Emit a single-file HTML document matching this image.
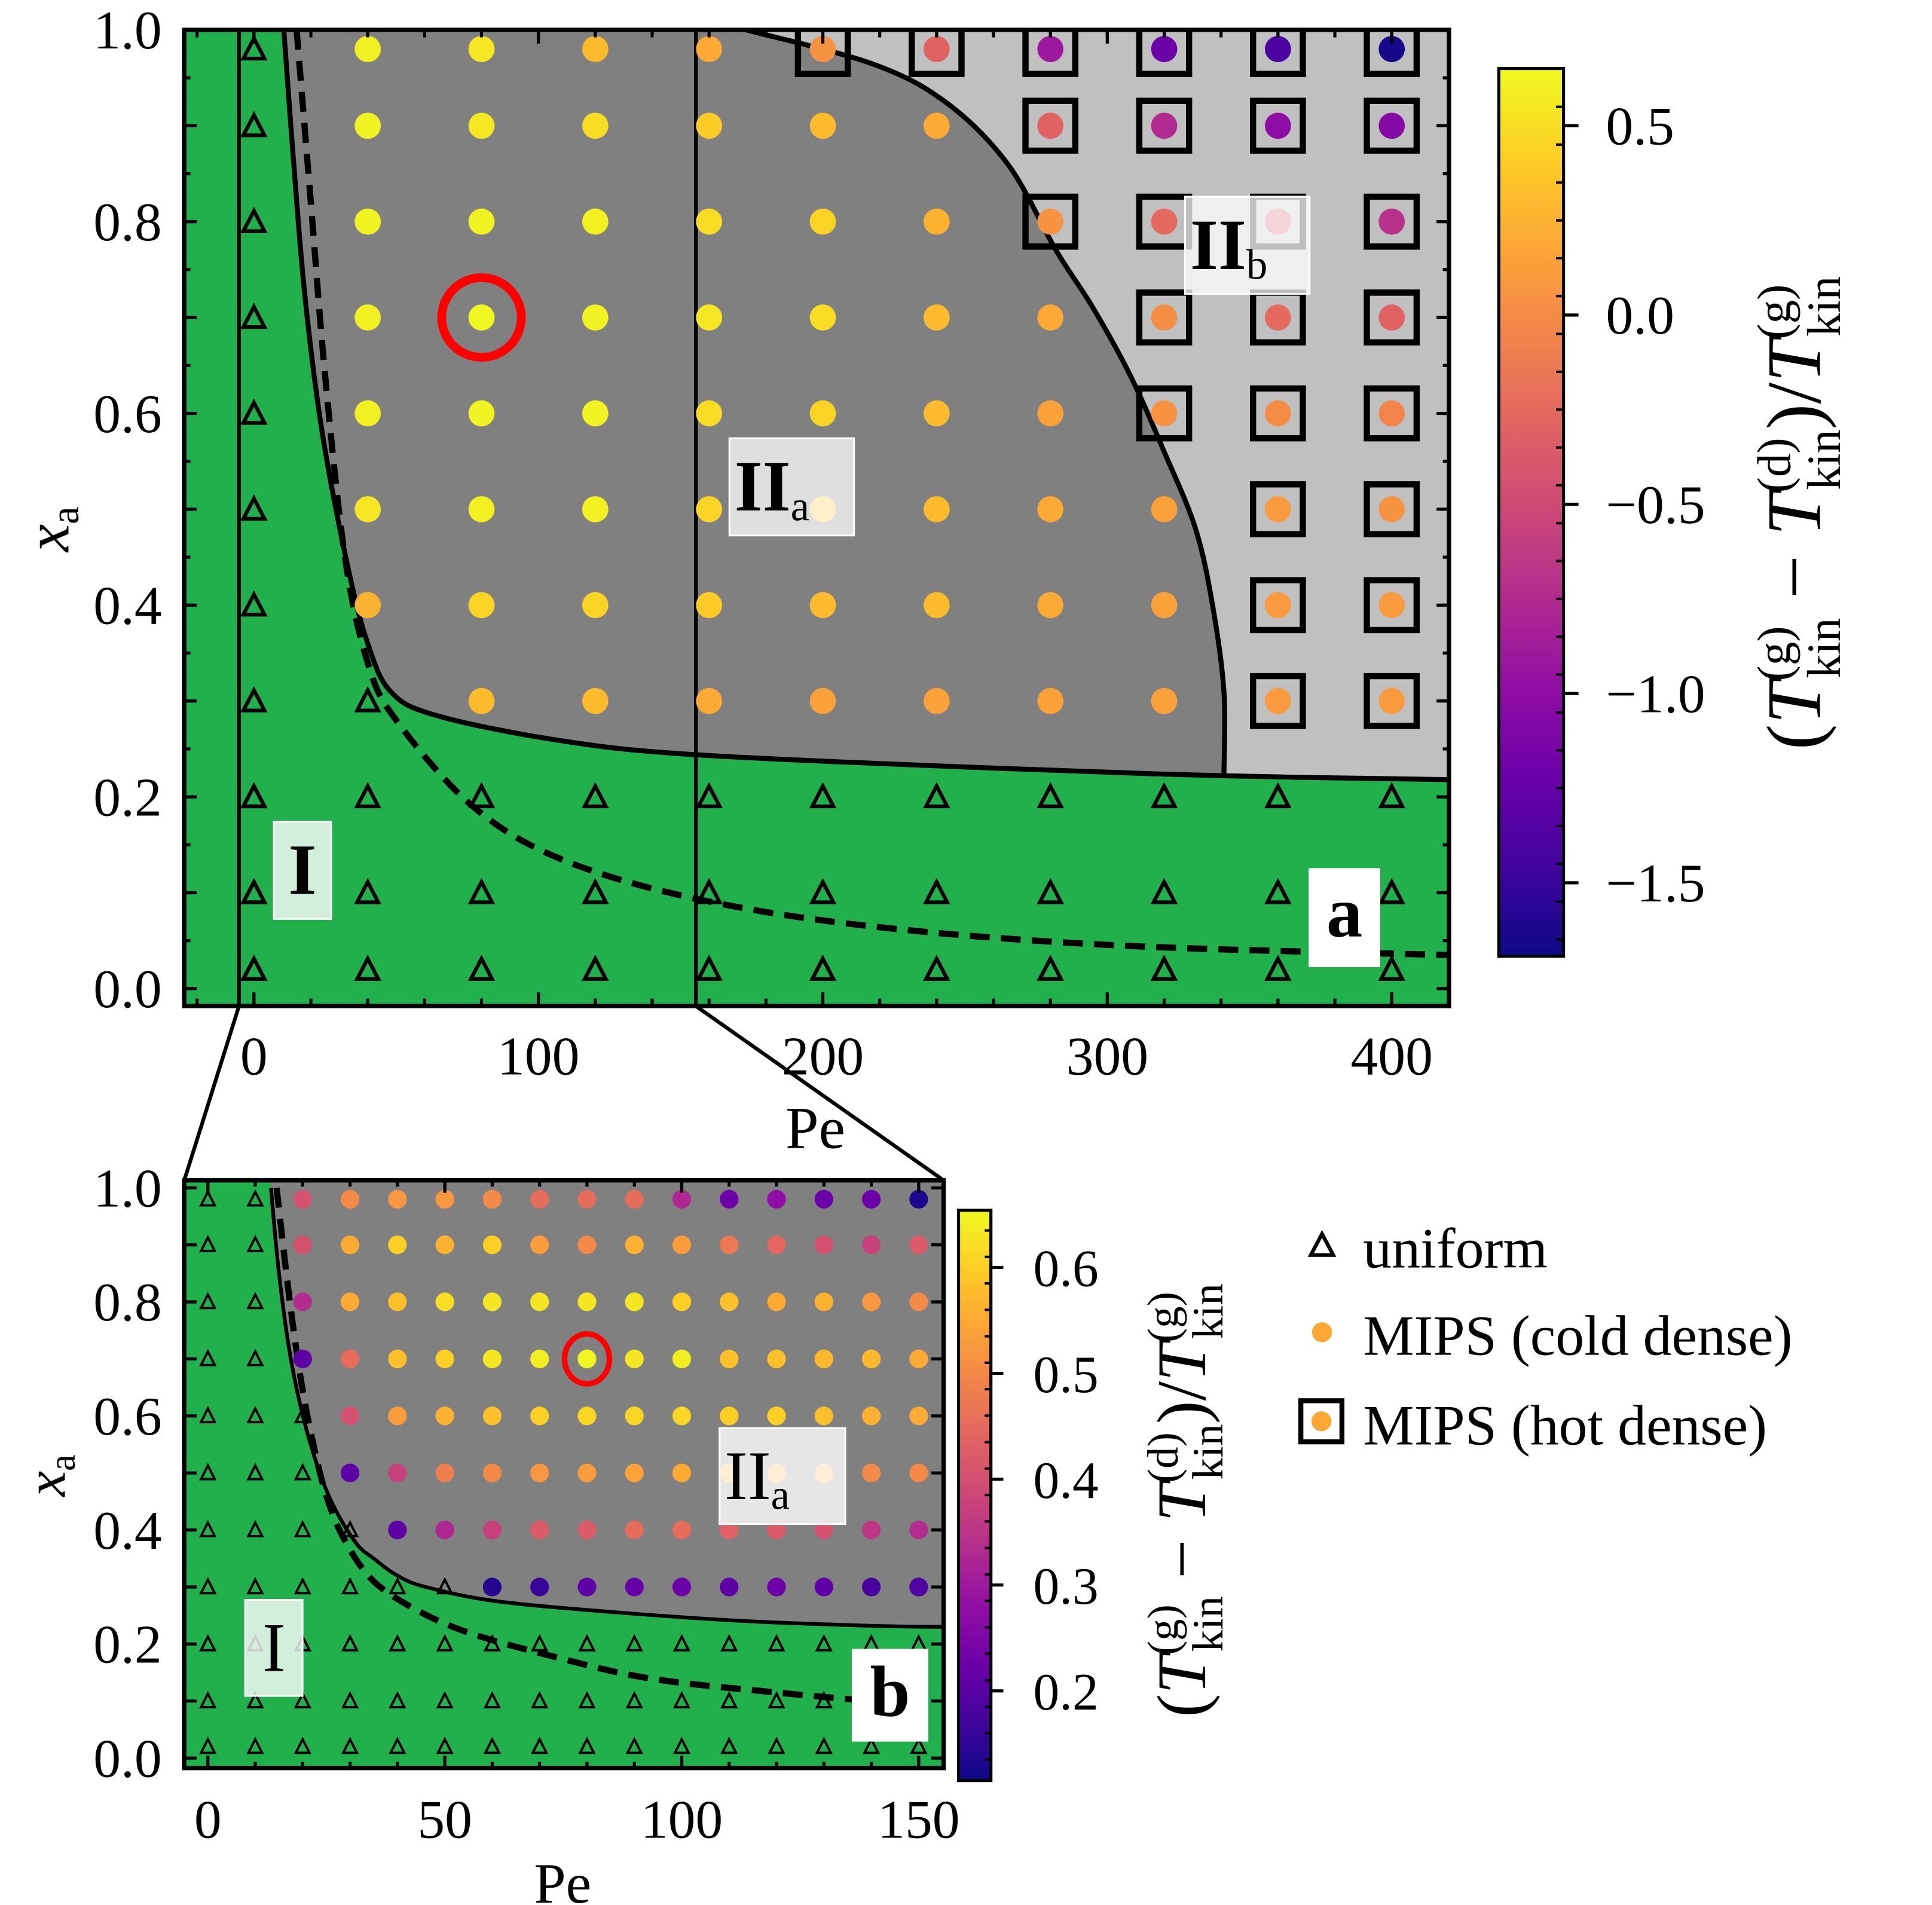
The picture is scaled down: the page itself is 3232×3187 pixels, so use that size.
<!DOCTYPE html>
<html><head><meta charset="utf-8"><style>
html,body{margin:0;padding:0;background:#fff}
svg{display:block}
text{font-family:"Liberation Serif",serif;fill:#000}
</style></head><body>
<svg id="fig" xmlns="http://www.w3.org/2000/svg" width="3232" height="3187" viewBox="0 0 1552 1530" preserveAspectRatio="none">
<defs>
<linearGradient id="plasma" x1="0" y1="1" x2="0" y2="0">
<stop offset="0" stop-color="#0d0887"/><stop offset="0.1" stop-color="#41049d"/><stop offset="0.2" stop-color="#6a00a8"/><stop offset="0.3" stop-color="#8f0da4"/><stop offset="0.4" stop-color="#b12a90"/><stop offset="0.5" stop-color="#cc4778"/><stop offset="0.6" stop-color="#e16462"/><stop offset="0.7" stop-color="#f2844b"/><stop offset="0.8" stop-color="#fca636"/><stop offset="0.9" stop-color="#fcce25"/><stop offset="1" stop-color="#f0f921"/>
</linearGradient>
<clipPath id="clipA"><rect x="148" y="24" width="1016" height="784"/></clipPath>
<clipPath id="clipB"><rect x="148" y="948" width="610" height="472"/></clipPath>
</defs>
<g id="gA"></g>
<g id="gB"></g>
<g id="gL">
<path d="M1062,991 L1071,1008 L1053,1008 Z" fill="none" stroke="#000" stroke-width="3"/>
<text x="1095" y="1018" font-size="46">uniform</text>
<circle cx="1062" cy="1070" r="8" fill="#fca636"/>
<text x="1095" y="1088" font-size="46">MIPS (cold dense)</text>
<rect x="1045" y="1125" width="33" height="33" fill="none" stroke="#000" stroke-width="4"/>
<circle cx="1061.5" cy="1141.5" r="8" fill="#fca636"/>
<text x="1095" y="1160" font-size="46">MIPS (hot dense)</text>
</g>
</svg>
<script>
// ===== Panel a data =====
const peA = [40,80,120,160,200,240,280,320,360,400];
const xaA = [0.98,0.9,0.8,0.7,0.6,0.5,0.4,0.3];
const valA = [
 [0.6,0.55,0.3,0.2,0.05,-0.3,-0.9,-1.2,-1.4,-1.65],
 [0.62,0.55,0.5,0.4,0.3,0.2,-0.3,-0.75,-1.0,-1.05],
 [0.62,0.62,0.6,0.5,0.45,0.25,0.05,-0.25,-0.45,-0.7],
 [0.6,0.64,0.62,0.55,0.5,0.3,0.2,0.02,-0.25,-0.3],
 [0.6,0.62,0.62,0.5,0.45,0.3,0.15,0.05,0.0,-0.05],
 [0.55,0.6,0.6,0.45,0.35,0.3,0.2,0.15,0.1,0.05],
 [0.25,0.45,0.45,0.4,0.3,0.3,0.2,0.15,0.1,0.1],
 [null,0.3,0.3,0.2,0.15,0.15,0.15,0.15,0.1,0.1]
];
// phase: 0 uniform, 1 cold, 2 hot
const phaseA = [
 [1,1,1,1,2,2,2,2,2,2],
 [1,1,1,1,1,1,2,2,2,2],
 [1,1,1,1,1,1,2,2,2,2],
 [1,1,1,1,1,1,1,2,2,2],
 [1,1,1,1,1,1,1,2,2,2],
 [1,1,1,1,1,1,1,1,2,2],
 [1,1,1,1,1,1,1,1,2,2],
 [0,1,1,1,1,1,1,1,2,2]
];
const uniA_pe = [0,0,0,0,0,0,0,0,0,0,0, 40, 0,40,80,120,160,200,240,280,320,360,400, 0,40,80,120,160,200,240,280,320,360,400, 0,40,80,120,160,200,240,280,320,360,400];
const uniA_xa = [0.98,0.9,0.8,0.7,0.6,0.5,0.4,0.3,0.2,0.1,0.02, 0.3, 0.2,0.2,0.2,0.2,0.2,0.2,0.2,0.2,0.2,0.2,0.2, 0.1,0.1,0.1,0.1,0.1,0.1,0.1,0.1,0.1,0.1,0.1, 0.02,0.02,0.02,0.02,0.02,0.02,0.02,0.02,0.02,0.02,0.02];
const xTicksA = [0,100,200,300,400];
const yTicks = [0.0,0.2,0.4,0.6,0.8,1.0];
const cbTicksA = [0.5,0.0,-0.5,-1.0,-1.5];
const bndA_pe = [10.5,14,18,24,33,40,48,64,107,155,260,341,420];
const bndA_xa = [1.0,0.86,0.72,0.58,0.44,0.36,0.31,0.285,0.259,0.244,0.23,0.222,0.218];
const bndB_pe = [173,217,243,265,282,295,308,320,331,337,341,341];
const bndB_xa = [1.0,0.965,0.925,0.86,0.77,0.71,0.64,0.56,0.48,0.40,0.31,0.222];
const dashA_pe = [15,20,25,32,40,50,77,108,155,217,304,420];
const dashA_xa = [1.0,0.82,0.64,0.45,0.34,0.28,0.19,0.135,0.094,0.065,0.045,0.035];

// ===== Panel b data =====
const peB = [20,30,40,50,60,70,80,90,100,110,120,130,140,150];
const xaB = [0.98,0.9,0.8,0.7,0.6,0.5,0.4,0.3];
const valB = [
 [0.4,0.5,0.52,0.52,0.5,0.45,0.45,0.45,0.32,0.22,0.27,0.22,0.22,0.12],
 [0.4,0.55,0.6,0.56,0.6,0.53,0.5,0.56,0.53,0.47,0.44,0.4,0.37,0.42],
 [0.33,0.55,0.58,0.62,0.63,0.63,0.63,0.63,0.6,0.58,0.55,0.56,0.52,0.5],
 [0.2,0.45,0.58,0.6,0.63,0.64,0.65,0.63,0.64,0.58,0.58,0.57,0.57,0.55],
 [null,0.4,0.53,0.56,0.58,0.6,0.61,0.61,0.61,0.6,0.6,0.58,0.56,0.55],
 [null,0.2,0.37,0.48,0.5,0.52,0.53,0.54,0.55,0.55,0.55,0.55,0.5,0.5],
 [null,null,0.2,0.32,0.37,0.42,0.42,0.45,0.45,0.43,0.42,0.4,0.35,0.33],
 [null,null,null,null,0.13,0.15,0.2,0.21,0.22,0.2,0.22,0.2,0.17,0.18]
];
const peBAll = [0,10,20,30,40,50,60,70,80,90,100,110,120,130,140,150];
const xaBAll = [0.98,0.9,0.8,0.7,0.6,0.5,0.4,0.3,0.2,0.1,0.02];
const xTicksB = [0,50,100,150];
const cbTicksB = [0.6,0.5,0.4,0.3,0.2];
const bndC_pe = [13.3,15,17.5,21,25.5,31,35,40,46,61,87,114,140,155];
const bndC_xa = [1.0,0.85,0.7,0.57,0.46,0.38,0.35,0.32,0.3,0.275,0.255,0.24,0.232,0.23];
const dashB_pe = [14.5,17,19.5,22,25,29,35,44,55,72,93,120,140];
const dashB_xa = [1.0,0.82,0.67,0.56,0.46,0.38,0.31,0.26,0.22,0.18,0.14,0.115,0.1];

// ===== helpers =====
const NS='http://www.w3.org/2000/svg';
function mk(tag, attrs, parent){const e=document.createElementNS(NS,tag);for(const k in attrs)e.setAttribute(k,attrs[k]);parent.appendChild(e);return e;}
const stops=[[0,[13,8,135]],[0.1,[65,4,157]],[0.2,[106,0,168]],[0.3,[143,13,164]],[0.4,[177,42,144]],[0.5,[204,71,120]],[0.6,[225,100,98]],[0.7,[242,132,75]],[0.8,[252,166,54]],[0.9,[252,206,37]],[1,[240,249,33]]];
function plasma(t){t=Math.max(0,Math.min(1,t));for(let i=1;i<stops.length;i++){if(t<=stops[i][0]){const a=stops[i-1],b=stops[i];const f=(t-a[0])/(b[0]-a[0]);const c=a[1].map((v,j)=>Math.round(v+(b[1][j]-v)*f));return `rgb(${c})`;}}return 'rgb(240,249,33)';}
function smooth(pts){let d=`M${pts[0][0]},${pts[0][1]}`;for(let i=0;i<pts.length-1;i++){const p0=pts[Math.max(0,i-1)],p1=pts[i],p2=pts[i+1],p3=pts[Math.min(pts.length-1,i+2)];const c1=[p1[0]+(p2[0]-p0[0])/6,p1[1]+(p2[1]-p0[1])/6],c2=[p2[0]-(p3[0]-p1[0])/6,p2[1]-(p3[1]-p1[1])/6];d+=` C${c1[0]},${c1[1]} ${c2[0]},${c2[1]} ${p2[0]},${p2[1]}`;}return d;}
function tri(g,cx,cy,s,sw){const h=s*0.9;return mk('path',{d:`M${cx},${cy-h/2-1} L${cx+s/2},${cy+h/2} L${cx-s/2},${cy+h/2} Z`,fill:'none',stroke:'#000','stroke-width':sw},g);}

// ===== Panel a =====
const gA=document.getElementById('gA');
const A={x0:148,x1:1164,y0:24,y1:808};
const xA=p=>204+p*(1118-204)/400;
const yA=v=>794-v*770;
const cA=v=>plasma((v+1.69)/(0.65+1.69));
const clipA=mk('g',{'clip-path':'url(#clipA)'},gA);


let r=mk('rect',{x:A.x0,y:A.y0,width:A.x1-A.x0,height:A.y1-A.y0,fill:'#22b04c'},clipA);

const bA=bndA_pe.map((p,i)=>[xA(p),yA(bndA_xa[i])]);
let e=mk('path',{d:smooth(bA)+` L${A.x1+5},${yA(0.218)} L${A.x1+5},${A.y0-5} L${xA(10.5)},${A.y0-5} Z`,fill:'#808080'},clipA);

const bB=bndB_pe.map((p,i)=>[xA(p),yA(bndB_xa[i])]);
e=mk('path',{d:smooth(bB)+` L${A.x1+5},${yA(0.218)} L${A.x1+5},${A.y0-5} Z`,fill:'#c0c0c0'},clipA);

e=mk('path',{d:smooth(bA),fill:'none',stroke:'#000','stroke-width':4},clipA);

e=mk('path',{d:smooth(bB),fill:'none',stroke:'#000','stroke-width':4},clipA);

e=mk('path',{d:smooth(dashA_pe.map((p,i)=>[xA(p),yA(dashA_xa[i])])),fill:'none',stroke:'#000','stroke-width':5,'stroke-dasharray':'16,9'},clipA);

e=mk('line',{x1:192,y1:A.y0,x2:192,y2:A.y1,stroke:'#000','stroke-width':3},clipA);

e=mk('line',{x1:559,y1:A.y0,x2:559,y2:A.y1,stroke:'#000','stroke-width':3},clipA);

uniA_pe.forEach((p,i)=>{const t=tri(clipA,xA(p),yA(uniA_xa[i]),17,3);
});
xaA.forEach((xa,ri)=>peA.forEach((p,ci)=>{const v=valA[ri][ci];if(v===null)return;
 if(phaseA[ri][ci]===2){const s=mk('rect',{x:xA(p)-20,y:yA(xa)-20,width:40,height:40,fill:'none',stroke:'#000','stroke-width':5},clipA);
 }
 const c=mk('circle',{cx:xA(p),cy:yA(xa),r:10.5,fill:cA(v)},clipA);
 }));
function labelBox(g,x,y,w,h,fill,op,name){const b=mk('rect',{x,y,width:w,height:h,fill,'fill-opacity':op,stroke:'#fff','stroke-width':1.5},g);return b;}
labelBox(clipA,220,660,46,78,'#fff',0.8,'label-i-box');
e=mk('text',{x:243,y:718,'font-size':58,'font-weight':'bold','text-anchor':'middle'},clipA);e.textContent='I';

labelBox(clipA,586,352,100,78,'#fff',0.75,'label-iia-box');
e=mk('text',{x:590,y:410,'font-size':58,'font-weight':'bold'},clipA);e.innerHTML='II<tspan font-size="34" font-weight="normal" dy="8">a</tspan>';

labelBox(clipA,952,158,100,78,'#fff',0.75,'label-iib-box');
e=mk('text',{x:956,y:216,'font-size':58,'font-weight':'bold'},clipA);e.innerHTML='II<tspan font-size="34" font-weight="normal" dy="8">b</tspan>';

labelBox(clipA,1052,698,56,78,'#fff',1,'panel-a-tag-box');
e=mk('text',{x:1080,y:752,'font-size':58,'font-weight':'bold','text-anchor':'middle'},clipA);e.textContent='a';

e=mk('circle',{cx:xA(80),cy:yA(0.7),r:32,fill:'none',stroke:'#ff0000','stroke-width':7},clipA);

e=mk('rect',{x:A.x0,y:A.y0,width:A.x1-A.x0,height:A.y1-A.y0,fill:'none',stroke:'#000','stroke-width':3.5},gA);

function ticksX(g,fx,from,to,step,y0,y1,len){for(let p=from;p<=to+1e-9;p+=step){const x=fx(p);mk('line',{x1:x,y1:y1,x2:x,y2:y1-len,stroke:'#000','stroke-width':2.5},g);mk('line',{x1:x,y1:y0,x2:x,y2:y0+len,stroke:'#000','stroke-width':2.5},g);}}
function ticksY(g,fy,from,to,step,x0,x1,len){for(let v=from;v<=to+1e-9;v+=step){const y=fy(v);mk('line',{x1:x0,y1:y,x2:x0+len,y2:y,stroke:'#000','stroke-width':2.5},g);mk('line',{x1:x1,y1:y,x2:x1-len,y2:y,stroke:'#000','stroke-width':2.5},g);}}
const tkA=mk('g',{},gA);
ticksX(tkA,xA,0,400,100,A.y0,A.y1,11);ticksX(tkA,xA,-20,420,20,A.y0,A.y1,6);
ticksY(tkA,yA,0,1,0.1,A.x0,A.x1,10);ticksY(tkA,yA,0,1,0.05,A.x0,A.x1,5);
xTicksA.forEach(t=>{const l=mk('text',{x:xA(t),y:863,'font-size':44,'text-anchor':'middle'},gA);l.textContent=t;
 });
yTicks.forEach(t=>{const l=mk('text',{x:130,y:yA(t)+15,'font-size':44,'text-anchor':'end'},gA);l.textContent=t.toFixed(1);
 });
e=mk('text',{x:655,y:922,'font-size':48,'text-anchor':'middle'},gA);e.textContent='Pe';

e=mk('text',{x:0,y:0,'font-size':50,'font-style':'italic',transform:'translate(55,425) rotate(-90)','text-anchor':'middle'},gA);e.innerHTML='x<tspan font-size="32" font-style="normal" dy="8">a</tspan>';

const cbyA=v=>101+(0.5-v)*304;
e=mk('rect',{x:1204,y:55,width:52,height:713,fill:'url(#plasma)',stroke:'#000','stroke-width':2.5},gA);

for(let v=-1.65;v<=0.65;v+=0.1){const y=cbyA(v);if(y>57&&y<766)mk('line',{x1:1256,y1:y,x2:1250,y2:y,stroke:'#000','stroke-width':2},gA);}
cbTicksA.forEach(t=>{const y=cbyA(t);mk('line',{x1:1256,y1:y,x2:1268,y2:y,stroke:'#000','stroke-width':2.5},gA);
 const l=mk('text',{x:1290,y:y+15,'font-size':44},gA);l.textContent=(t<0?'\u2212':'')+Math.abs(t).toFixed(1);
 });
e=mk('text',{x:0,y:0,'font-size':62,transform:'translate(1462,412) rotate(-90)','text-anchor':'middle'},gA);
e.innerHTML='(<tspan font-style="italic">T</tspan><tspan font-size="38" dy="-24">(g)</tspan><tspan font-size="38" dx="-42" dy="40">kin</tspan><tspan dy="-16"> \u2212 </tspan><tspan font-style="italic">T</tspan><tspan font-size="38" dy="-24">(d)</tspan><tspan font-size="38" dx="-42" dy="40">kin</tspan><tspan dy="-16">)/</tspan><tspan font-style="italic">T</tspan><tspan font-size="38" dy="-24">(g)</tspan><tspan font-size="38" dx="-42" dy="40">kin</tspan>';

e=mk('line',{x1:192,y1:808,x2:148,y2:948,stroke:'#000','stroke-width':3},gA);
e=mk('line',{x1:559,y1:808,x2:758,y2:948,stroke:'#000','stroke-width':3},gA);

// ===== Panel b =====
const gB=document.getElementById('gB');
const B={x0:148,x1:758,y0:948,y1:1420};
const xB=p=>167+p*(738-167)/150;
const yB=v=>1412-v*458;
const cB=v=>plasma((v-0.106)/(0.654-0.106));
const clipB=mk('g',{'clip-path':'url(#clipB)'},gB);

e=mk('rect',{x:B.x0,y:B.y0,width:B.x1-B.x0,height:B.y1-B.y0,fill:'#22b04c'},clipB);

const bC=bndC_pe.map((p,i)=>[xB(p),yB(bndC_xa[i])]);
e=mk('path',{d:smooth(bC)+` L${B.x1+5},${yB(0.23)} L${B.x1+5},${B.y0-5} L${xB(13.3)},${B.y0-5} Z`,fill:'#808080'},clipB);

e=mk('path',{d:smooth(bC),fill:'none',stroke:'#000','stroke-width':3},clipB);

e=mk('path',{d:smooth(dashB_pe.map((p,i)=>[xB(p),yB(dashB_xa[i])])),fill:'none',stroke:'#000','stroke-width':5,'stroke-dasharray':'16,9'},clipB);

xaBAll.forEach((xa,ri)=>peBAll.forEach((p,ci)=>{
 let isDot=false;const r2=xaB.indexOf(xa);const c2=peB.indexOf(p);
 if(r2>=0&&c2>=0&&valB[r2][c2]!==null)isDot=true;
 if(isDot){const c=mk('circle',{cx:xB(p),cy:yB(xa),r:7.5,fill:cB(valB[r2][c2])},clipB);
  }
 else{const t=tri(clipB,xB(p),yB(xa),11,1.9);}
}));
labelBox(clipB,197,1285,46,77,'#fff',0.8,'label-i-b-box');
e=mk('text',{x:220,y:1342,'font-size':56,'text-anchor':'middle'},clipB);e.textContent='I';

labelBox(clipB,578,1147,101,77,'#fff',0.8,'label-iia-b-box');
e=mk('text',{x:582,y:1204,'font-size':56}, clipB);e.innerHTML='II<tspan font-size="34" dy="8">a</tspan>';

labelBox(clipB,685,1325,60,73,'#fff',1,'panel-b-tag-box');
e=mk('text',{x:715,y:1378,'font-size':58,'font-weight':'bold','text-anchor':'middle'},clipB);e.textContent='b';

e=mk('ellipse',{cx:xB(80),cy:yB(0.7),rx:18,ry:20,fill:'none',stroke:'#ff0000','stroke-width':4.5},clipB);

e=mk('rect',{x:B.x0,y:B.y0,width:B.x1-B.x0,height:B.y1-B.y0,fill:'none',stroke:'#000','stroke-width':3.5},gB);

const tkB=mk('g',{},gB);
ticksX(tkB,xB,0,150,50,B.y0,B.y1,10);ticksX(tkB,xB,0,150,10,B.y0,B.y1,5);
ticksY(tkB,yB,0,1,0.1,B.x0,B.x1,10);
xTicksB.forEach(t=>{const l=mk('text',{x:xB(t),y:1476,'font-size':44,'text-anchor':'middle'},gB);l.textContent=t;
 });
yTicks.forEach(t=>{const l=mk('text',{x:130,y:yB(t)+15,'font-size':44,'text-anchor':'end'},gB);l.textContent=t.toFixed(1);
 });
e=mk('text',{x:452,y:1528,'font-size':46,'text-anchor':'middle'},gB);e.textContent='Pe';

e=mk('text',{x:0,y:0,'font-size':46,'font-style':'italic',transform:'translate(52,1185) rotate(-90)','text-anchor':'middle'},gB);e.innerHTML='x<tspan font-size="30" font-style="normal" dy="8">a</tspan>';

const cbyB=v=>1018+(0.6-v)*850;
e=mk('rect',{x:770,y:972,width:26,height:458,fill:'url(#plasma)',stroke:'#000','stroke-width':2.5},gB);

for(let v=0.11;v<=0.65;v+=0.025){const y=cbyB(v);if(y>974&&y<1428)mk('line',{x1:796,y1:y,x2:791,y2:y,stroke:'#000','stroke-width':2},gB);}
cbTicksB.forEach(t=>{const y=cbyB(t);mk('line',{x1:796,y1:y,x2:806,y2:y,stroke:'#000','stroke-width':2.5},gB);
 const l=mk('text',{x:830,y:y+15,'font-size':42},gB);l.textContent=t.toFixed(1);
 });
e=mk('text',{x:0,y:0,'font-size':56,transform:'translate(968,1205) rotate(-90)','text-anchor':'middle'},gB);
e.innerHTML='(<tspan font-style="italic">T</tspan><tspan font-size="35" dy="-22">(g)</tspan><tspan font-size="35" dx="-38" dy="36">kin</tspan><tspan dy="-14"> \u2212 </tspan><tspan font-style="italic">T</tspan><tspan font-size="35" dy="-22">(d)</tspan><tspan font-size="35" dx="-38" dy="36">kin</tspan><tspan dy="-14">)/</tspan><tspan font-style="italic">T</tspan><tspan font-size="35" dy="-22">(g)</tspan><tspan font-size="35" dx="-38" dy="36">kin</tspan>';

</script>
</body></html>
